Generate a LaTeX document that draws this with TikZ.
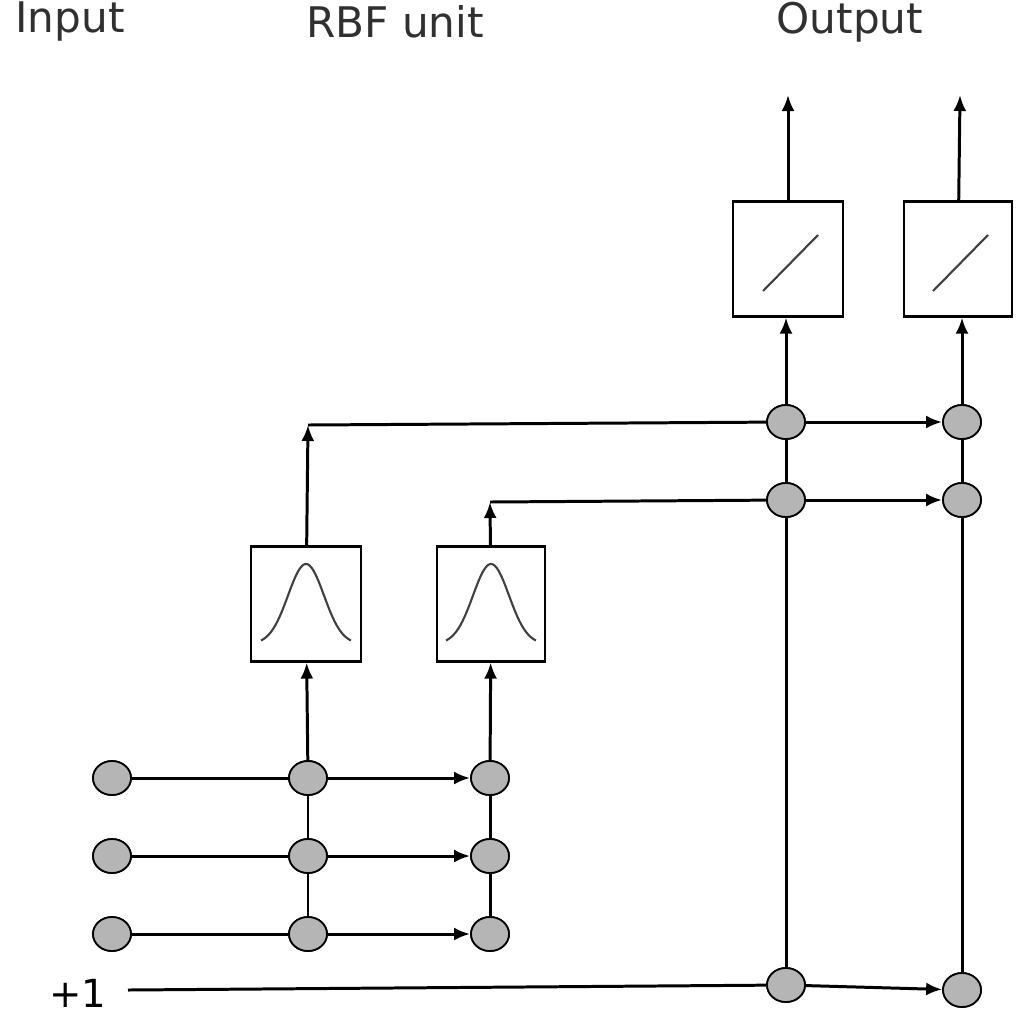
\documentclass[tikz,border=0pt]{standalone}
\usepackage{fontspec}
\setmainfont{DejaVu Sans}
\usetikzlibrary{arrows.meta,shapes.geometric}
\begin{document}
\begin{tikzpicture}[x=0.02cm,y=-0.02cm,
  dot/.style={ellipse,draw=black,line width=1pt,fill=gray!95!black!55,minimum width=0.76cm,minimum height=0.68cm,inner sep=0},
  box/.style={draw=black,line width=1.2pt,fill=white,minimum width=2.2cm,minimum height=2.3cm,inner sep=0},
  ln/.style={line width=1.7pt},
  arr/.style={ln,-{Latex[length=0.32cm,width=0.26cm]}},
  ttl/.style={font=\fontsize{24}{28}\selectfont\addfontfeature{Color=303030}}]
\useasboundingbox (0,0) rectangle (1024,1015);
\node[ttl] at (70,22) {Input};
\node[ttl] at (395,22) {RBF unit};
\node[ttl] at (850,22) {Output};
% input
\foreach \i/\y in {1/778,2/856,3/934}{
  \node[dot] (i\i) at (112,\y) {};
  \node[dot] (a\i) at (308,\y) {};
  \node[dot] (b\i) at (490,\y) {};
}
\node[box] (g1) at (306,604) {};
\node[box,minimum width=2.16cm] (g2) at (491,604) {};
\node[box] (l1) at (788,259) {};
\node[box,minimum width=2.16cm] (l2) at (958,259) {};
\foreach \g in {g1,g2}{
  \draw[line width=1.2pt,gray!50!black,domain=-1:1,samples=60,shift={(\g.center)}]
    plot ({\x*45},{40-80*exp(-(\x*\x)/(2*0.16))});
}
\foreach \l in {l1,l2}{
  \draw[line width=1.2pt,gray!50!black,shift={(\l.center)}] (-25,32) -- (30,-24);
}
\node[dot] (o1) at (786,422) {};
\node[dot] (o2) at (786,500) {};
\node[dot] (o3) at (786,985) {};
\node[dot] (p1) at (962,422) {};
\node[dot] (p2) at (962,500) {};
\node[dot] (p3) at (962,990) {};
\node[font=\fontsize{22}{26}\selectfont] (one) at (78,993) {+1};
\coordinate (t1) at (308,425);
\coordinate (t2) at (490,502);
\coordinate (u1) at (788,95);
\coordinate (u2) at (960,95);
\coordinate (s) at (128,990);
% connections
\foreach \i in {1,2,3}{
  \draw[ln] (i\i) -- (a\i);
  \draw[arr] (a\i) -- (b\i);
}
\draw[ln] (a3) -- (a2) -- (a1);
\draw[ln] (b3) -- (b2) -- (b1);
\draw[arr] (a1) -- (g1);
\draw[arr] (b1) -- (g2);
\draw[arr] (g1) -- (t1);
\draw[arr] (g2) -- (t2);
\draw[ln] (t1) -- (o1);
\draw[ln] (t2) -- (o2);
\draw[ln] (s) -- (o3);
\draw[arr] (o1) -- (p1);
\draw[arr] (o2) -- (p2);
\draw[arr] (o3) -- (p3);
\draw[ln] (o3) -- (o2) -- (o1);
\draw[ln] (p3) -- (p2) -- (p1);
\draw[arr] (o1) -- (o1 |- l1.south);
\draw[arr] (p1) -- (p1 |- l2.south);
\draw[arr] (l1) -- (u1);
\draw[arr] (l2) -- (u2);
% redraw dots on top
\foreach \n in {i1,i2,i3,a1,a2,a3,b1,b2,b3,o1,o2,o3,p1,p2,p3}{
  \node[dot] at (\n.center) {};
}
\end{tikzpicture}
\end{document}
